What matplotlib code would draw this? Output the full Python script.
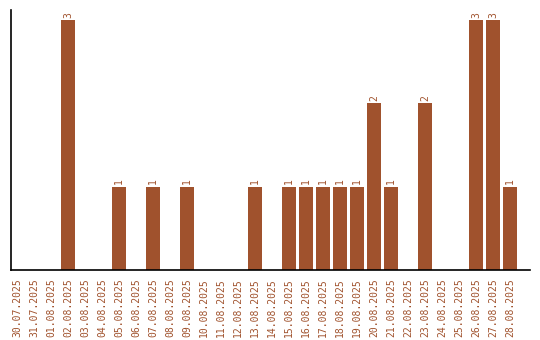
import matplotlib
matplotlib.use("Agg")
import matplotlib.pyplot as plt

dates = ["30.07.2025", "31.07.2025", "01.08.2025", "02.08.2025", "03.08.2025",
         "04.08.2025", "05.08.2025", "06.08.2025", "07.08.2025", "08.08.2025",
         "09.08.2025", "10.08.2025", "11.08.2025", "12.08.2025", "13.08.2025",
         "14.08.2025", "15.08.2025", "16.08.2025", "17.08.2025", "18.08.2025",
         "19.08.2025", "20.08.2025", "21.08.2025", "22.08.2025", "23.08.2025",
         "24.08.2025", "25.08.2025", "26.08.2025", "27.08.2025", "28.08.2025"]
counts = [0, 0, 0, 3, 0, 0, 1, 0, 1, 0, 1, 0, 0, 0, 1, 0, 1, 1, 1, 1, 1, 2, 1, 0, 2, 0, 0, 3, 3, 1]

color = "#A0522D"
plt.rcParams['font.family'] = ['DejaVu Sans Mono']

fig = plt.figure(figsize=(5.4, 3.4), dpi=100)
ax = fig.add_axes([11/540, 70/340, 519/540, 260/340])
x = list(range(len(dates)))
bars = ax.bar(x, counts, width=0.82, color=color)
for xi, c in zip(x, counts):
    if c > 0:
        ax.text(xi, c + 0.03, str(c), rotation=90, ha="center", va="bottom",
                fontsize=7, color=color)
ax.set_xlim(-0.35, 30.18)
ax.set_ylim(0, 3.12)
ax.set_xticks(x)
ax.set_xticklabels(dates, rotation=90, fontsize=7, color=color)
ax.tick_params(axis="x", length=0, pad=6)
ax.set_yticks([])
ax.spines["top"].set_visible(False)
ax.spines["right"].set_visible(False)
ax.spines["left"].set_linewidth(1.2)
ax.spines["bottom"].set_linewidth(1.2)
fig.savefig("out.png", dpi=100)
